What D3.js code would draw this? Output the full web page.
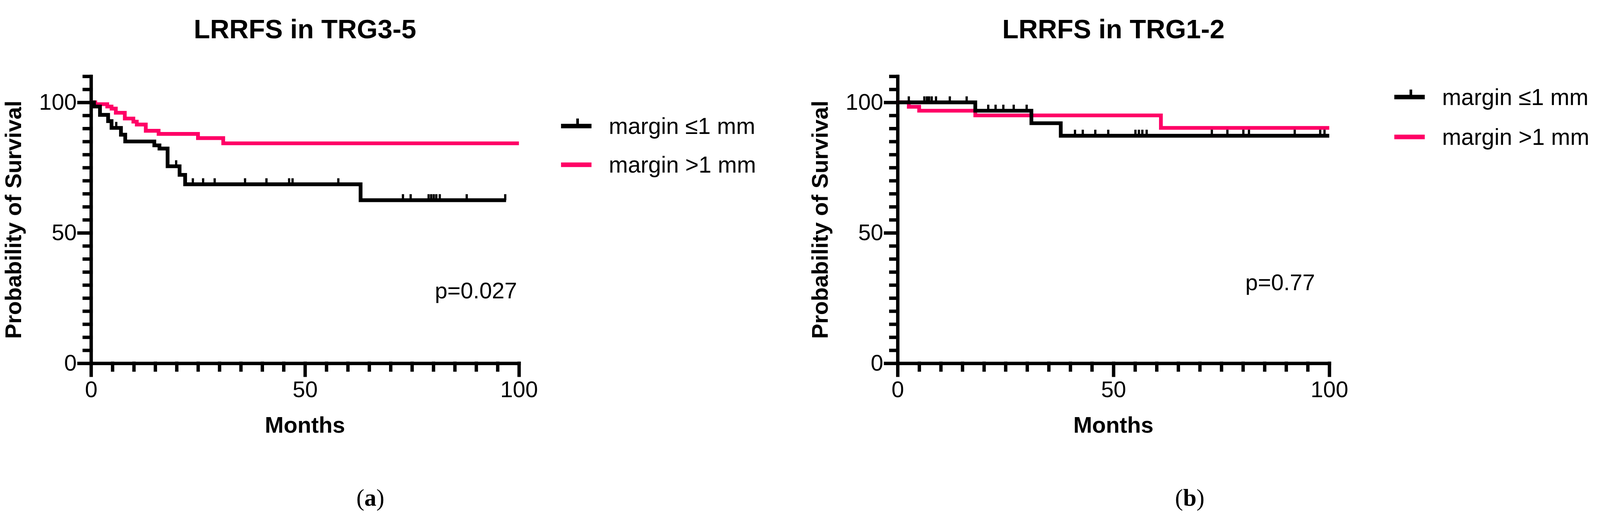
<!DOCTYPE html>
<html><head><meta charset="utf-8">
<script src="https://cdn.jsdelivr.net/npm/d3@7"></script>
<style>html,body{margin:0;padding:0;background:#fff;overflow:hidden}svg{display:block;width:100vw;height:100vh}</style>
</head><body>
<svg id="c" viewBox="0 0 4255 1352" preserveAspectRatio="xMidYMid meet"></svg>
<script>
// Panel (a) LRRFS in TRG3-5
const aBlackSteps = [[0,100],[0.7,98.4],[2.1,95.2],[4.0,92.8],[4.8,90.2],[7.0,87.6],[8.0,85.0],[14.8,83.5],[16.0,82.3],[17.9,75.5],[20.7,72.2],[22.0,68.6],[63.0,62.5]];
const aBlackEnd = 97;
const aBlackCensor = [5.9,19.9,23.8,26.2,28.9,36,41,46.3,47.1,57.8,72.9,74.7,78.9,79.5,80.1,80.7,81.5,87.8,96.8];
const aRedSteps = [[0,100],[1.0,99.3],[3.8,98.4],[4.8,97.6],[5.8,96.0],[7.9,93.8],[9.9,92.6],[10.7,91.5],[12.8,89.1],[15.8,87.9],[25.0,86.3],[30.9,84.3]];
const aRedEnd = 100;
const aRedCensor = [];
// Panel (b) LRRFS in TRG1-2
const bBlackSteps = [[0,100],[18,96.8],[31,92.0],[37.8,87.2]];
const bBlackEnd = 100;
const bBlackCensor = [2.6,6.2,6.8,7.3,7.9,8.9,12.1,16,21,22.7,24.5,26.9,29.9,41.1,42.9,45.8,48.8,55.1,55.9,56.7,57.7,72.8,76.4,80.1,81.4,92,97.9,98.9];
const bRedSteps = [[0,100],[2.6,98.3],[5.0,96.8],[18,95.0],[61,90.2]];
const bRedEnd = 100;
const bRedCensor = [];

const titles = ["LRRFS in TRG3-5","LRRFS in TRG1-2"];
const pvals = ["p=0.027","p=0.77"];
const panelLabels = ["a","b"];
const legendLabels = ["margin \u22641 mm","margin >1 mm"];
const xTicks = [0,50,100];
const yTicks = [0,50,100];
const colors = ["#000000","#ff0066"];

const svg = d3.select("#c");
const F = "Arial, 'Liberation Sans', sans-serif";

const panels = [
  {x0:242,x1:1380,title:titles[0],p:pvals[0],pX:1375,pY:767,lab:panelLabels[0],labX:985,
   legX:1492,legY:[309,412],black:[aBlackSteps,aBlackEnd,aBlackCensor],red:[aRedSteps,aRedEnd,aRedCensor]},
  {x0:2387,x1:3535,title:titles[1],p:pvals[1],pX:3497,pY:746,lab:panelLabels[1],labX:3164,
   legX:3708,legY:[232,338],black:[bBlackSteps,bBlackEnd,bBlackCensor],red:[bRedSteps,bRedEnd,bRedCensor]}
];

panels.forEach(P=>{
  const x = d3.scaleLinear().domain([0,100]).range([P.x0,P.x1]);
  const y = d3.scaleLinear().domain([0,110]).range([940,940-110*6.94]);
  const g = svg.append("g");

  const minorY = d3.range(0,111,5).filter(v=>v%50!==0);
  const minorX = d3.range(0,101,5).filter(v=>v%50!==0);
  g.append("g").attr("transform",`translate(0,940)`)
    .call(d3.axisBottom(x).tickValues(xTicks).tickSize(32).tickSizeOuter(0).tickPadding(16));
  g.append("g").attr("transform",`translate(0,940)`)
    .call(d3.axisBottom(x).tickValues(minorX).tickSize(18).tickFormat("").tickSizeOuter(0))
    .select(".domain").remove();
  g.append("g").attr("transform",`translate(${P.x0},0)`)
    .call(d3.axisLeft(y).tickValues(yTicks).tickSize(32).tickSizeOuter(0).tickPadding(6));
  g.append("g").attr("transform",`translate(${P.x0},0)`)
    .call(d3.axisLeft(y).tickValues(minorY).tickSize(18).tickFormat("").tickSizeOuter(0))
    .select(".domain").remove();
  g.selectAll(".domain,.tick line").attr("stroke","#000").attr("stroke-width",9).attr("stroke-linecap","square");
  g.selectAll(".tick text").attr("font-family",F).attr("font-size",60).attr("fill","#000");

  const line = d3.line().x(d=>x(d[0])).y(d=>y(d[1])).curve(d3.curveStepAfter);
  [[P.red,colors[1]],[P.black,colors[0]]].forEach(([s,col])=>{
    const [steps,end,cens]=s;
    const pts = steps.concat([[end,steps[steps.length-1][1]]]);
    g.append("path").datum(pts).attr("d",line).attr("fill","none")
      .attr("stroke",col).attr("stroke-width",10).attr("stroke-linejoin","miter");
    const lvl = t=>{let v=100;steps.forEach(d=>{if(d[0]<=t)v=d[1];});return v;};
    g.selectAll(null).data(cens).enter().append("line")
      .attr("x1",d=>x(d)).attr("x2",d=>x(d)).attr("y1",d=>y(lvl(d))).attr("y2",d=>y(lvl(d))-16)
      .attr("stroke",col).attr("stroke-width",6);
  });

  const cx = (P.x0+P.x1)/2;
  g.append("text").attr("x",cx).attr("y",76).attr("text-anchor","middle")
    .attr("font-family",F).attr("font-weight","bold").attr("font-size",71).text(P.title);
  g.append("text").attr("x",cx).attr("y",1125).attr("text-anchor","middle")
    .attr("font-family",F).attr("font-weight","bold").attr("font-size",60).text("Months");
  g.append("text").attr("transform",`translate(${P.x0-186},${y(55)}) rotate(-90)`).attr("text-anchor","middle")
    .attr("font-family",F).attr("font-weight","bold").attr("font-size",60).text("Probability of Survival");
  g.append("text").attr("x",P.pX).attr("y",P.pY).attr("text-anchor","end")
    .attr("font-family",F).attr("font-size",60).text(P.p);
  const pl = g.append("text").attr("x",P.labX).attr("y",1319).attr("text-anchor","middle")
    .attr("font-family","'Liberation Serif','DejaVu Serif',serif").attr("font-size",64);
  pl.append("tspan").text("(");
  pl.append("tspan").attr("font-weight","bold").text(P.lab);
  pl.append("tspan").text(")");

  legendLabels.forEach((lab,i)=>{
    const ly = P.legY[i];
    g.append("line").attr("x1",P.legX).attr("x2",P.legX+81).attr("y1",ly).attr("y2",ly)
      .attr("stroke",colors[i]).attr("stroke-width",12);
    if(i===0) g.append("line").attr("x1",P.legX+44).attr("x2",P.legX+44).attr("y1",ly).attr("y2",ly-20)
      .attr("stroke",colors[i]).attr("stroke-width",7);
    g.append("text").attr("x",P.legX+127).attr("y",ly+21)
      .attr("font-family",F).attr("font-size",61).text(lab);
  });
});
</script>
</body></html>
